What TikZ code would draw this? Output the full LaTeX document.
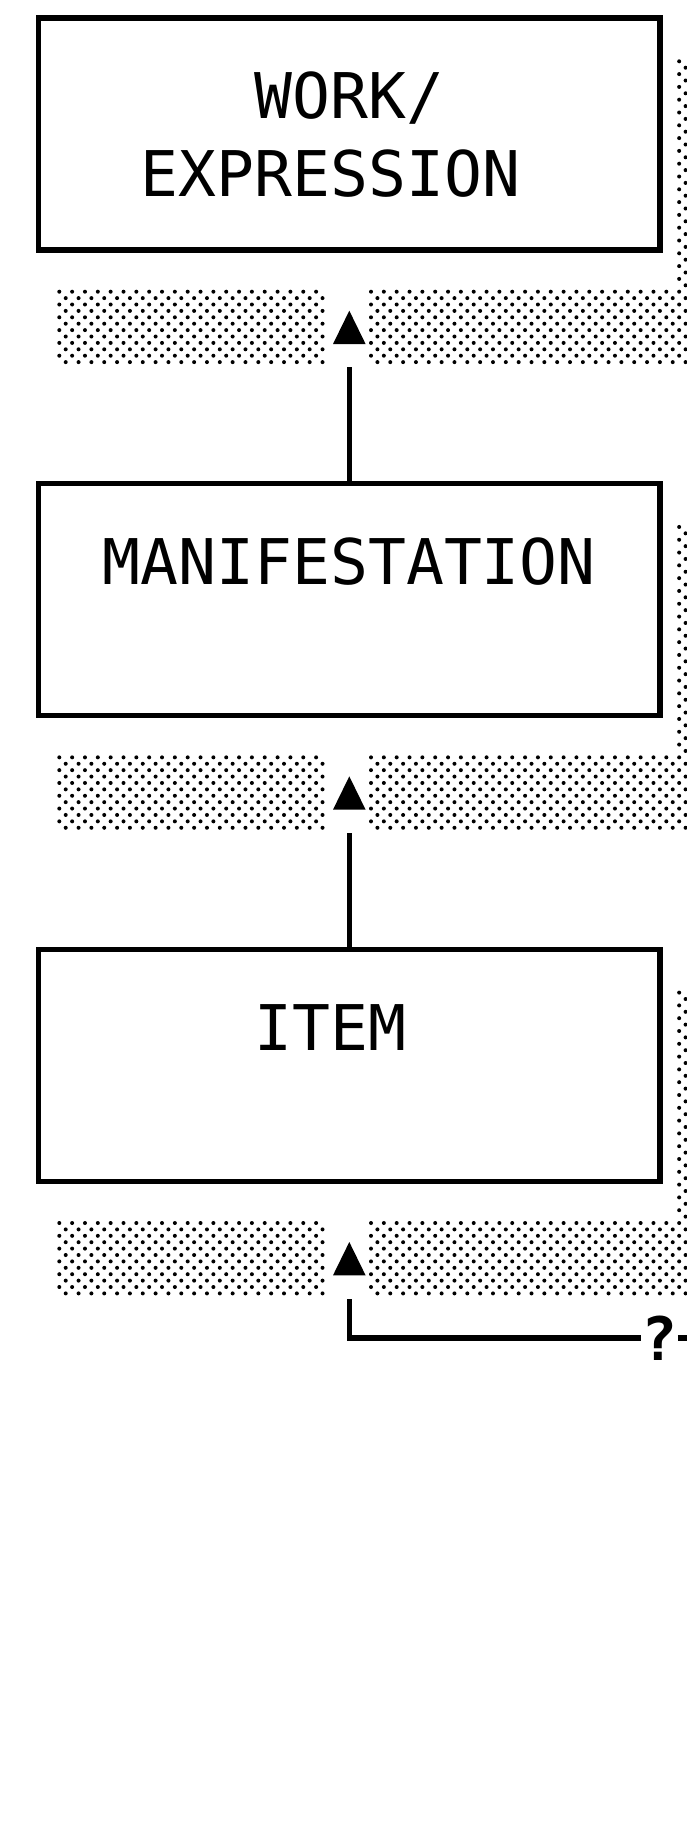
\documentclass[tikz,border=0pt]{standalone}
\usepackage{fontspec}
\setmonofont{DejaVu Sans Mono}
\begin{document}
\begin{tikzpicture}[x=1pt,y=-1pt,
  ebox/.style={draw=black, line width=5.3pt, minimum width=621.5pt, minimum height=232pt, inner sep=0pt, fill=white},
  lbl/.style={font=\ttfamily\fontsize{63}{76}\selectfont, inner sep=0pt, anchor=base},
  qlbl/.style={font=\ttfamily\bfseries\fontsize{60}{72}\selectfont, inner sep=0pt, anchor=center},
  conn/.style={draw=black, line width=5.3pt},
  headtri/.style={fill=black},
  dotstyle/.style={fill=black}
]
\useasboundingbox (0,0) rectangle (686,1829);
\fill[white] (0,0) rectangle (686,1829);

% dotted (stippled) bands under each box
\foreach \i in {0,1,2} {
  \pgfmathsetmacro\off{465.65*\i}
  \fill[dotstyle]
    \foreach \b in {0,2,...,10} {\foreach \a in {0,2,...,40} {(59.3+6.42*\a, 291.7+\off+6.4*\b) circle (2pt)}}
    \foreach \b in {1,3,...,11} {\foreach \a in {1,3,...,41} {(59.3+6.42*\a, 291.7+\off+6.4*\b) circle (2pt)}};
  \fill[dotstyle]
    \foreach \b in {0,2,...,10} {\foreach \a in {0,2,...,48} {(371+6.42*\a, 291.7+\off+6.4*\b) circle (2pt)}}
    \foreach \b in {1,3,...,11} {\foreach \a in {1,3,...,49} {(371+6.42*\a, 291.7+\off+6.4*\b) circle (2pt)}};
  \fill[dotstyle]
    \foreach \b in {-36,-34,...,-2} {(371+6.42*48, 291.7+\off+6.4*\b) circle (2pt)}
    \foreach \b in {-35,-33,...,-1} {(371+6.42*49, 291.7+\off+6.4*\b) circle (2pt)};
  % arrow heads
  \coordinate (tip\i) at (349.3, 310.7+\off);
  \fill[headtri] (tip\i) -- ++(16.3,33.3) -- ++(-32.6,0) -- cycle;
}

% boxes
\node[ebox] (work) at (349.25,134) {};
\node[ebox] (manif) at (349.25,599.65) {};
\node[ebox] (item) at (349.25,1065.3) {};

% labels
\node[lbl] (workt) at (349.25,118.7) {WORK/};
\node[lbl] (exprt) at (330.5,196.7) {EXPRESSION};
\node[lbl] (maniftt) at (349.25,584.35) {MANIFESTATION};
\node[lbl] (itemt) at (330.5,1050) {ITEM};

% connectors
\coordinate (l0) at (349.25,367);
\coordinate (l1) at (349.25,832.65);
\coordinate (l2) at (349.25,1299);
\draw[conn] (manif.north) -- (l0);
\draw[conn] (item.north) -- (l1);
\node[qlbl] (q) at (659.5,1338) {?};
\draw[conn] (l2) |- (q.west);
\draw[conn] (q.east) -- ++(15,0);
\end{tikzpicture}
\end{document}
